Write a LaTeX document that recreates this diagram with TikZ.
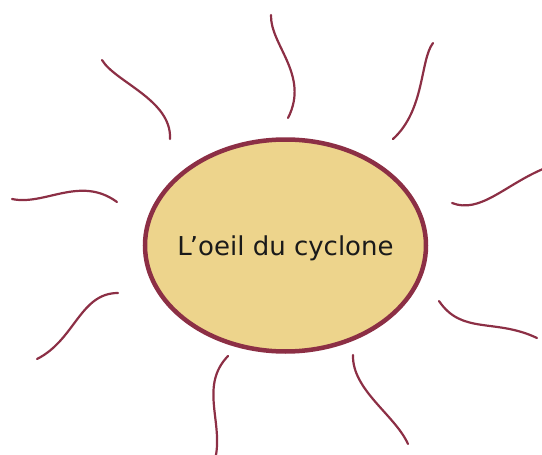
\documentclass[tikz,border=0pt]{standalone}
\usepackage{fontspec}
\setmainfont{DejaVu Sans}
\usetikzlibrary{shapes.geometric}
\definecolor{sunfill}{HTML}{EDD48C}
\definecolor{sunline}{HTML}{8C2F45}
\definecolor{txt}{HTML}{1A1A1A}
\tikzset{
  ray/.style={draw=sunline, line width=2.2pt, line cap=round},
  sun/.style={ellipse, draw=sunline, fill=sunfill, line width=4.5pt, minimum width=281pt, minimum height=212pt, inner sep=0pt},
  suntext/.style={font=\fontsize{26}{30}\selectfont, text=txt, inner sep=0pt}
}
\begin{document}
\begin{tikzpicture}[x=1pt,y=-1pt]
\useasboundingbox (0,0) rectangle (542,455);
\node[sun] (c) at (285.5,245.5) {};
\node[suntext] (t) at ([yshift=-3pt]c.center) {L\kern-2pt’oeil du cyclone};
% rays
\coordinate (a1) at (102,60);  \coordinate (b1) at (170,139);
\coordinate (a2) at (12,199);  \coordinate (b2) at (117,202);
\coordinate (a3) at (271,15);  \coordinate (b3) at (288,118);
\coordinate (a4) at (433,43);  \coordinate (b4) at (393,139);
\coordinate (a5) at (452,203); \coordinate (b5) at (543,169);
\coordinate (a6) at (118,293); \coordinate (b6) at (37,359);
\coordinate (a7) at (228,356); \coordinate (b7) at (216,455);
\coordinate (a8) at (353,355); \coordinate (b8) at (408,444);
\coordinate (a9) at (439,301); \coordinate (b9) at (537,338);
\draw[ray] (a1) .. controls (115,82) and (172,100) .. (b1);
\draw[ray] (a2) .. controls (45,206) and (80,175) .. (b2);
\draw[ray] (a3) .. controls (270,45) and (310,75) .. (b3);
\draw[ray] (a4) .. controls (420,60) and (425,110) .. (b4);
\draw[ray] (a5) .. controls (480,214) and (505,185) .. (b5);
\draw[ray] (a6) .. controls (80,293) and (75,340) .. (b6);
\draw[ray] (a7) .. controls (200,385) and (222,420) .. (b7);
\draw[ray] (a8) .. controls (352,390) and (395,415) .. (b8);
\draw[ray] (a9) .. controls (462,335) and (495,318) .. (b9);
\end{tikzpicture}
\end{document}
